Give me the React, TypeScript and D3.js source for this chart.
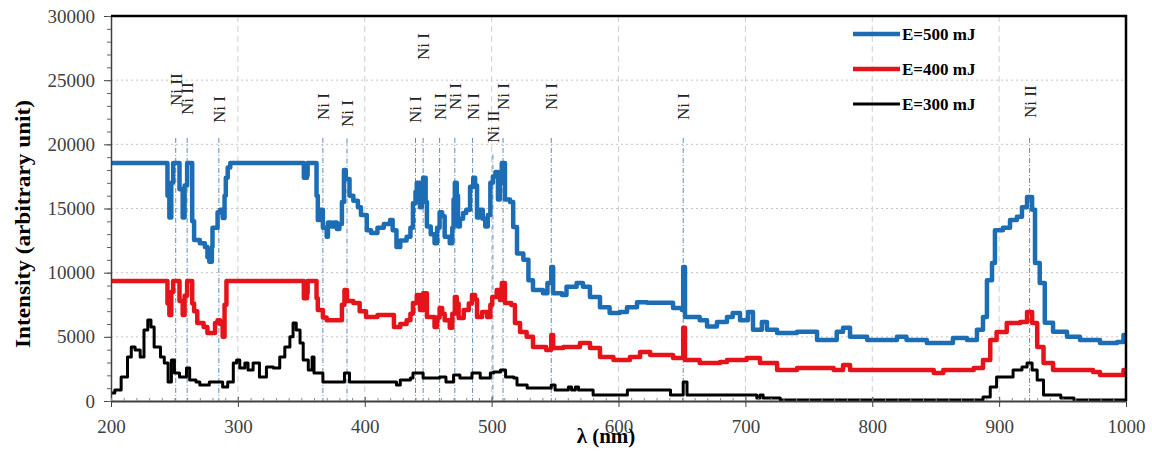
import React, { useEffect, useRef } from "react";
import * as d3 from "d3";

// wavelength (nm) / intensity (a.u.)
const wavelengthTicks = [200, 300, 400, 500, 600, 700, 800, 900, 1000];
const intensityTicks = [0, 5000, 10000, 15000, 20000, 25000, 30000];

const series500: [number, number][] = [
  [200, 18550], [243, 18550], [244.5, 16000], [246, 14300], [247.5, 17000], [249, 18550], [252.5, 18550],
  [254, 16500], [256.5, 14300], [258, 16800], [260, 18550], [262.5, 18550], [264, 14000], [265.5, 12550],
  [270, 12300], [274, 12000], [276, 11200], [277.5, 10850], [279.5, 12000], [280, 13500], [282.5, 13500],
  [284, 14700], [286, 14900], [288, 14260], [289.5, 16000], [290.5, 17400], [292, 18200], [294, 18550],
  [351, 18550], [352, 17400], [354.5, 17600], [355, 18550], [361, 18550], [362, 16000], [363, 14100],
  [365, 14900], [367, 13500], [370, 12800], [371, 13900], [374, 13600], [376, 13900], [378, 13400],
  [380, 13800], [382, 15500], [383.6, 18000], [385, 17300], [388, 16000], [391, 15600], [394.6, 15100],
  [397, 14500], [401.6, 13300], [405, 13100], [410, 13500], [415, 13800], [420, 14100], [422, 13300],
  [425, 12000], [428, 12500], [433, 12800], [436, 13500], [438, 15400], [440, 16300], [441, 17000],
  [443.5, 15100], [445, 16500], [446, 17400], [448, 15500], [449, 13600], [452, 13000], [455, 12300],
  [457, 13500], [459, 14700], [461, 14400], [463, 12800], [467, 12300], [469, 13500], [470, 15700],
  [471, 17000], [472.5, 16000], [473.5, 13600], [475, 14200], [477.5, 14650], [480, 14900], [483, 16700],
  [485.5, 17400], [487, 16800], [488.5, 14300], [491, 14900], [493, 14200], [495, 13600], [497, 14500],
  [499, 17000], [501, 17500], [503, 17850], [505, 15700], [506.5, 17000], [508, 18550], [510.5, 15700],
  [514.5, 15500], [517, 13550], [520, 11500], [525, 11000], [529, 9400], [532.6, 8650], [540.5, 8400],
  [544, 9200], [546, 9200], [547, 10450], [548.5, 8400], [555.5, 8260], [559, 8900], [563, 8900],
  [567, 9200], [572, 8900], [577.5, 8100], [585.4, 7300], [593, 6860], [601, 6940], [606.7, 7300],
  [614.6, 7700], [622.5, 7650], [635, 7650], [643, 7250], [650, 7100], [651, 10450], [652.4, 6550],
  [664, 6300], [669.8, 5800], [677.6, 6150], [685.5, 6550], [690, 6860], [695.8, 6300], [702, 6940],
  [706, 5550], [713, 6150], [717, 5550], [725, 5300], [740.7, 5400], [756.5, 4750], [772, 5400],
  [777, 5700], [782.5, 5000], [796, 4750], [819.5, 5000], [827, 4750], [843, 4520], [859, 4520],
  [863.6, 4900], [874.7, 4750], [882.5, 5550], [887.3, 6550], [890.4, 9400], [894.4, 10750],
  [896.7, 13300], [903, 13500], [908.6, 14100], [914, 14350], [918, 15100], [922, 15900], [926, 14900],
  [928.3, 10750], [932, 9200], [936, 6100], [942.5, 5400], [953.5, 5000], [963.7, 4750], [979.5, 4520],
  [993, 4600], [998, 5150], [1000, 5150],
];

const series400: [number, number][] = [
  [200, 9350], [243, 9350], [244.5, 7600], [246, 6700], [247.5, 8500], [249, 9350], [252.5, 9350],
  [254, 7800], [256.5, 6700], [258, 8200], [260, 9350], [262.5, 9350], [264, 7600], [265.5, 7000],
  [268, 6080], [273, 5770], [276, 5300], [280, 5300], [282, 6080], [284, 6300], [286, 6000], [288, 5000],
  [289.5, 7500], [291, 9350], [351, 9350], [352, 8000], [354.5, 8400], [355, 9350], [361, 9350],
  [362, 8000], [363, 7100], [367, 6500], [370, 6300], [380, 6300], [382, 7500], [384, 8650], [386, 7800],
  [391, 7640], [396, 7000], [401, 6550], [410, 6700], [420, 6700], [423, 5770], [428, 6000], [433, 6300],
  [436, 6800], [438, 7640], [441, 8260], [443.5, 7100], [446, 8400], [449, 6550], [455, 5770], [457, 6500],
  [459, 7250], [461, 6800], [463, 6300], [467, 5700], [469, 6800], [471, 8100], [472.5, 7600], [474, 6470],
  [478, 7100], [482, 7600], [484.5, 8260], [487, 7900], [488.5, 6550], [492.5, 6940], [496.5, 6550],
  [499, 7500], [500.5, 8100], [504, 8650], [506.5, 7870], [508, 9200], [510.5, 7640], [515.5, 7480],
  [518.4, 6080], [522.4, 5380], [527.6, 5000], [532.6, 4200], [543, 3970], [546, 4000], [547, 5150],
  [548.5, 4130], [556.5, 4200], [569.6, 4520], [577.5, 4130], [585.4, 3430], [596, 3200], [609, 3430],
  [617, 3820], [625, 3580], [643, 3350], [650, 3350], [651, 5700], [652.4, 3200], [664, 2960], [680, 3040],
  [685.5, 3200], [701, 3350], [711.5, 2960], [725, 2420], [740.7, 2570], [769.6, 2420], [777, 2800],
  [782.5, 2420], [843, 2420], [848.5, 2180], [856, 2420], [880, 2570], [887.3, 3200], [893, 4750],
  [898, 5380], [906, 6080], [916.6, 6160], [922, 6940], [926, 6080], [930, 4200], [935, 2960],
  [942.5, 2420], [974, 2260], [979.5, 2030], [998, 2420], [1000, 2420],
];

const series300: [number, number][] = [
  [200, 620], [203, 850], [208, 1870], [213, 3430], [216, 4200], [219, 3970], [223, 3430], [226, 5530],
  [229, 6310], [231.5, 5770], [234, 4200], [239, 3430], [242, 2960], [245, 1480], [247.6, 3200], [250, 2180],
  [254, 1870], [259.5, 2570], [262, 1640], [267, 1480], [270, 1250], [277.5, 1480], [288, 1090], [292, 1480],
  [296.4, 2960], [299, 3200], [301.5, 2570], [305.5, 2960], [308, 2420], [312, 2960], [317, 1870],
  [322.5, 2650], [328, 2570], [333, 3430], [337, 4200], [341, 5000], [343.5, 6080], [346, 5530], [349, 4520],
  [351.5, 3200], [355.5, 2420], [358.5, 3430], [360, 2180], [362, 2180], [367, 1480], [380, 1480],
  [384, 2180], [388, 1480], [422.5, 1480], [425, 1250], [428, 1640], [436, 1800], [438, 2180], [443.5, 2180],
  [446, 1800], [459, 1870], [464, 1480], [470, 2020], [475, 1800], [484.5, 2180], [491, 1800], [499, 2180],
  [501.5, 2260], [507, 2420], [511, 1870], [517.5, 1800], [520, 1250], [528, 1010], [546, 1010], [547, 1250],
  [550, 860], [560.5, 1090], [563, 860], [566, 1090], [568.5, 860], [580, 470], [607, 860], [638, 860],
  [641, 470], [650, 470], [651, 1480], [654, 470], [706, 470], [709, 230], [711.5, 470], [714, 230],
  [727.5, 80], [882.5, 80], [887.3, 310], [893, 1090], [898, 1870], [911, 2420], [918, 2650], [922, 2960],
  [926, 2420], [930, 1640], [935, 470], [946, 470], [948.6, 230], [959, 80], [1000, 80],
];

const seriesNames = ["E=500 mJ", "E=400 mJ", "E=300 mJ"];
const seriesColors = ["#1c6db3", "#e5141b", "#000000"];

// emission lines: wavelength, species, intensity level where the label starts
const lineWavelengths = [251, 260, 285, 367, 386, 440, 446, 459, 471, 485, 501, 509, 547, 651, 924];
const lineSpecies = ["Ni II", "Ni II", "Ni I", "Ni I", "Ni I", "Ni I", "Ni I", "Ni I", "Ni I", "Ni I", "Ni II", "Ni I", "Ni I", "Ni I", "Ni II"];
const labelLevels = [22990, 22290, 21660, 21900, 21350, 21660, 26570, 21900, 22680, 21900, 20100, 22680, 22680, 21900, 22050];

const serif = "'Liberation Serif', 'Times New Roman', serif";

const App = () => {
  const ref = useRef<SVGSVGElement>(null);

  useEffect(() => {
    const width = 1152, height = 454;
    const svg = d3.select(ref.current).attr("width", width).attr("height", height);
    svg.selectAll("*").remove();

    const x = d3.scaleLinear().domain([200, 1000]).range([111, 1126]);
    const y = d3.scaleLinear().domain([0, 30000]).range([401, 16]);

    // grid
    svg.append("g")
      .selectAll("line")
      .data(intensityTicks.slice(1, -1))
      .enter()
      .append("line")
      .attr("x1", x(200)).attr("x2", x(1000))
      .attr("y1", d => y(d)).attr("y2", d => y(d))
      .attr("stroke", "#c4c4c4").attr("stroke-width", 1).attr("stroke-dasharray", "2,3");
    svg.append("g")
      .selectAll("line")
      .data(wavelengthTicks.slice(1, -1))
      .enter()
      .append("line")
      .attr("x1", d => x(d)).attr("x2", d => x(d))
      .attr("y1", y(30000)).attr("y2", y(0))
      .attr("stroke", "#cfcfcf").attr("stroke-width", 1).attr("stroke-dasharray", "6,4");

    // emission line markers
    svg.append("g")
      .selectAll("line")
      .data(lineWavelengths)
      .enter()
      .append("line")
      .attr("x1", d => x(d)).attr("x2", d => x(d))
      .attr("y1", (d, i) => y(Math.min(labelLevels[i] - 900, 20500)))
      .attr("y2", y(0))
      .attr("stroke", "#4e7fae").attr("stroke-width", 0.9).attr("stroke-dasharray", "5,2,1,2");

    svg.append("g")
      .selectAll("text")
      .data(lineWavelengths)
      .enter()
      .append("text")
      .attr("transform", (d, i) => `translate(${x(d)},${y(labelLevels[i])}) rotate(-90)`)
      .attr("dy", "0.35em")
      .attr("font-family", serif).attr("font-size", 17).attr("fill", "#222")
      .text((d, i) => lineSpecies[i]);

    // spectra
    const line = d3.line<[number, number]>()
      .x(d => x(d[0]))
      .y(d => y(d[1]))
      .curve(d3.curveStepAfter);
    const allSeries = [series500, series400, series300];
    const widths = [4.5, 4.5, 3];
    [2, 1, 0].forEach(i => {
      svg.append("path")
        .datum(allSeries[i])
        .attr("d", line)
        .attr("fill", "none")
        .attr("stroke", seriesColors[i])
        .attr("stroke-width", widths[i])
        .attr("stroke-linejoin", "round");
    });

    // axes
    const yAxis = svg.append("g").attr("transform", `translate(${x(200)},0)`)
      .call(d3.axisLeft(y).tickValues(intensityTicks).tickSize(7).tickSizeOuter(0).tickPadding(9).tickFormat(d3.format("d")));
    yAxis.select(".domain").attr("stroke", "#404040").attr("stroke-width", 1.5);
    yAxis.selectAll(".tick line").attr("stroke", "#404040");
    yAxis.selectAll("text").attr("font-family", serif).attr("font-size", 19).attr("fill", "#404040");

    svg.append("g").attr("transform", `translate(${x(200)},0)`)
      .call(d3.axisLeft(y).tickValues(d3.range(0, 30001, 1000)).tickSize(4).tickSizeOuter(0).tickFormat(() => ""))
      .call(g => g.select(".domain").remove())
      .selectAll(".tick line").attr("stroke", "#606060");

    const xAxis = svg.append("g").attr("transform", `translate(0,${y(0)})`)
      .call(d3.axisBottom(x).tickValues(wavelengthTicks).tickSize(6).tickSizeOuter(0).tickPadding(13).tickFormat(d3.format("d")));
    xAxis.select(".domain").attr("stroke", "#404040").attr("stroke-width", 2);
    xAxis.selectAll(".tick line").attr("stroke", "#404040").attr("y1", -4);
    xAxis.selectAll("text").attr("font-family", serif).attr("font-size", 19).attr("fill", "#404040");

    svg.append("g").attr("transform", `translate(0,${y(0)})`)
      .call(d3.axisBottom(x).tickValues(d3.range(200, 1001, 10)).tickSize(0).tickFormat(() => ""))
      .call(g => g.select(".domain").remove())
      .selectAll(".tick line").attr("y1", -3).attr("y2", 0).attr("stroke", "#888");

    // frame (top and right)
    svg.append("path")
      .attr("d", `M${x(200)},${y(30000)}H${x(1000)}V${y(0)}`)
      .attr("fill", "none").attr("stroke", "#000").attr("stroke-width", 2.5);

    // titles
    svg.append("text")
      .attr("transform", "translate(23,224) rotate(-90)")
      .attr("dy", "0.35em")
      .attr("text-anchor", "middle")
      .attr("font-family", serif).attr("font-weight", "bold").attr("font-size", 21)
      .attr("textLength", 248).attr("lengthAdjust", "spacingAndGlyphs")
      .text("Intensity (arbitrary unit)");
    svg.append("text")
      .attr("x", 606).attr("y", 443)
      .attr("text-anchor", "middle")
      .attr("font-family", serif).attr("font-weight", "bold").attr("font-size", 21)
      .text("λ (nm)");

    // legend
    const legend = svg.append("g");
    seriesNames.forEach((name, i) => {
      const ly = 34 + i * 35;
      legend.append("line")
        .attr("x1", 853).attr("x2", 900).attr("y1", ly).attr("y2", ly)
        .attr("stroke", seriesColors[i]).attr("stroke-width", widths[i]);
      legend.append("text")
        .attr("x", 902).attr("y", ly + 6)
        .attr("font-family", serif).attr("font-weight", "bold").attr("font-size", 17)
        .text(name);
    });
  }, []);

  return (
    <svg ref={ref} style={{ position: "absolute", left: 0, top: 0, background: "#fff" }}></svg>
  );
};

export default App;
